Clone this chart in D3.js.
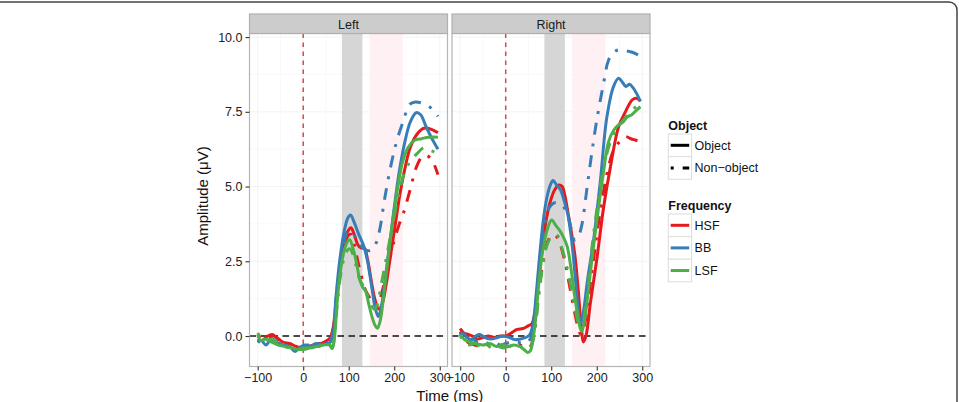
<!DOCTYPE html>
<html><head><meta charset="utf-8">
<script src="https://cdn.jsdelivr.net/npm/d3@7"></script>
<style>
body{margin:0;background:#fff;}
svg{display:block;font-family:"Liberation Sans",Arial,Helvetica,sans-serif;}
</style></head>
<body><svg id="chart" width="959" height="402"></svg>
<script>
// ---------------- data ----------------
const panels = ["Left", "Right"];
const frequencies = ["HSF", "BB", "LSF"];
const objectTypes = ["Object", "Non\u2212object"];
const xTicks = [-100, 0, 100, 200, 300];
const yTicks = [0, 2.5, 5, 7.5, 10];
const grayBand = [85, 130];
const pinkBand = [146, 219];

const L_HSF_obj = [[-100,-0.1],[-90,-0.15],[-78,0.0],[-68,0.05],[-58,-0.05],[-45,-0.2],[-30,-0.25],[-15,-0.35],[0,-0.4],[10,-0.35],[25,-0.3],[40,-0.25],[52,-0.15],[60,-0.05],[66,0.3],[72,1.1],[80,2.2],[90,3.1],[98,3.5],[105,3.62],[112,3.4],[120,3.05],[127,2.95],[134,2.95],[141,2.6],[150,1.8],[158,1.2],[166,0.9],[173,1.05],[182,1.7],[192,2.7],[202,3.7],[212,4.7],[222,5.5],[235,6.3],[250,6.75],[265,6.95],[280,6.92],[296,6.8]];
const L_BB_obj = [[-100,-0.2],[-92,-0.15],[-82,-0.3],[-72,-0.15],[-60,-0.2],[-45,-0.3],[-30,-0.35],[-18,-0.52],[-8,-0.4],[3,-0.3],[15,-0.35],[28,-0.25],[40,-0.3],[52,-0.25],[60,-0.2],[66,0.1],[72,1.3],[80,2.5],[90,3.5],[98,3.95],[104,4.05],[112,3.8],[122,3.4],[132,3.05],[140,2.6],[150,1.7],[158,0.95],[165,0.65],[172,1.0],[180,1.9],[190,3.1],[200,4.3],[210,5.4],[222,6.4],[235,7.15],[248,7.47],[258,7.4],[270,7.0],[283,6.6],[296,6.25]];
const L_LSF_obj = [[-100,0.05],[-93,-0.15],[-82,-0.1],[-70,-0.2],[-55,-0.3],[-40,-0.35],[-25,-0.4],[-12,-0.45],[0,-0.4],[15,-0.4],[30,-0.35],[45,-0.3],[57,-0.3],[64,-0.42],[69,0.0],[75,1.2],[84,2.4],[94,3.05],[102,3.22],[110,2.9],[117,2.45],[124,1.9],[130,1.65],[137,1.5],[145,1.0],[152,0.6],[158,0.35],[163,0.26],[169,0.5],[178,1.5],[188,2.8],[198,4.0],[208,5.0],[218,5.8],[230,6.3],[245,6.55],[260,6.6],[275,6.65],[296,6.65]];
const L_HSF_non = [[-100,0.0],[-88,-0.1],[-75,-0.05],[-65,0.0],[-52,-0.15],[-38,-0.3],[-22,-0.35],[-8,-0.45],[5,-0.4],[20,-0.3],[35,-0.25],[48,-0.2],[58,-0.1],[65,0.2],[72,1.0],[80,2.1],[90,3.0],[98,3.35],[105,3.4],[113,3.0],[120,2.5],[127,2.05],[135,1.6],[145,1.3],[155,1.05],[162,1.0],[170,1.3],[180,1.9],[190,2.6],[200,3.2],[210,3.7],[220,4.1],[235,4.9],[250,5.7],[265,6.05],[280,5.95],[296,5.4]];
const L_BB_non = [[-100,-0.15],[-90,-0.25],[-80,-0.2],[-68,-0.1],[-55,-0.25],[-40,-0.3],[-28,-0.4],[-15,-0.45],[-3,-0.35],[10,-0.3],[25,-0.3],[40,-0.25],[52,-0.2],[60,-0.15],[66,0.2],[72,1.2],[80,2.3],[90,3.2],[98,3.5],[105,3.5],[115,3.3],[125,3.05],[135,2.9],[145,2.85],[152,2.9],[160,3.1],[168,3.55],[179,4.6],[194,5.8],[206,6.55],[219,7.15],[234,7.75],[246,7.83],[259,7.8],[275,7.7],[288,7.5],[296,7.35]];
const L_LSF_non = [[-100,0.1],[-92,-0.05],[-80,-0.15],[-68,-0.1],[-55,-0.25],[-42,-0.35],[-28,-0.4],[-12,-0.45],[0,-0.45],[15,-0.4],[30,-0.35],[45,-0.35],[57,-0.3],[64,-0.35],[69,0.0],[75,1.1],[84,2.2],[94,2.8],[102,2.92],[110,2.7],[117,2.3],[124,1.9],[131,1.7],[140,1.4],[150,1.0],[157,0.9],[163,1.05],[170,1.6],[180,2.4],[190,3.2],[200,4.0],[210,4.75],[220,5.35],[235,5.85],[250,6.1],[265,6.3],[277,6.22],[288,6.15],[296,6.05]];

const R_HSF_obj = [[-100,0.25],[-92,0.1],[-82,0.05],[-73,0.0],[-62,-0.1],[-50,-0.05],[-38,0.0],[-25,-0.05],[-12,0.0],[0,0.0],[12,0.1],[25,0.22],[38,0.25],[50,0.35],[57,0.4],[63,0.7],[70,1.5],[78,2.7],[88,3.8],[98,4.5],[108,4.9],[117,5.05],[124,5.0],[130,4.7],[136,4.2],[144,3.5],[152,2.7],[159,1.6],[165,0.5],[171,-0.2],[177,0.05],[186,1.1],[200,2.55],[215,4.3],[230,5.65],[248,7.0],[263,7.5],[278,7.9],[288,7.95],[296,7.85]];
const R_BB_obj = [[-100,0.0],[-94,0.1],[-85,-0.05],[-76,-0.12],[-66,0.0],[-57,0.05],[-46,-0.05],[-32,-0.1],[-18,-0.05],[-5,0.0],[8,-0.05],[20,-0.12],[32,-0.1],[44,-0.05],[53,0.05],[60,0.4],[67,1.4],[74,2.6],[82,3.8],[90,4.6],[98,5.05],[104,5.2],[112,5.05],[120,4.9],[128,4.55],[136,4.1],[144,3.3],[152,2.1],[159,0.9],[164,0.4],[170,0.75],[180,1.9],[193,3.2],[208,5.2],[222,7.3],[237,8.35],[248,8.62],[256,8.5],[264,8.35],[272,8.42],[280,8.3],[288,8.1],[296,7.85]];
const R_LSF_obj = [[-100,0.05],[-92,-0.1],[-80,-0.2],[-65,-0.25],[-50,-0.3],[-35,-0.25],[-20,-0.35],[-5,-0.3],[5,-0.35],[18,-0.3],[30,-0.35],[40,-0.45],[48,-0.55],[54,-0.5],[60,-0.1],[66,0.6],[73,1.8],[82,2.9],[92,3.6],[101,3.88],[110,3.7],[120,3.5],[127,3.3],[135,3.0],[143,2.3],[150,1.5],[157,0.8],[163,0.3],[167,0.15],[173,0.5],[182,1.6],[192,2.9],[203,4.2],[215,5.5],[226,6.5],[238,6.9],[248,7.06],[257,7.15],[267,7.33],[277,7.4],[287,7.55],[296,7.67]];
const R_HSF_non = [[-100,0.15],[-92,-0.05],[-80,-0.25],[-68,-0.3],[-55,-0.35],[-42,-0.3],[-30,-0.3],[-18,-0.35],[-5,-0.3],[8,-0.35],[20,-0.3],[32,-0.3],[45,-0.4],[54,-0.35],[60,-0.1],[66,0.5],[73,1.5],[82,2.5],[92,3.15],[103,3.4],[112,3.32],[121,3.0],[130,2.5],[140,1.7],[150,0.9],[158,0.35],[165,0.05],[172,0.3],[182,1.3],[195,2.8],[210,4.4],[225,5.6],[237,6.22],[250,6.5],[263,6.67],[275,6.6],[286,6.55],[296,6.5]];
const R_BB_non = [[-100,0.1],[-93,-0.05],[-84,-0.2],[-74,-0.1],[-62,-0.2],[-50,-0.15],[-38,-0.25],[-25,-0.2],[-12,-0.3],[0,-0.25],[12,-0.2],[25,-0.2],[38,-0.25],[48,-0.2],[56,-0.05],[62,0.4],[69,1.5],[77,2.8],[86,3.8],[96,4.3],[106,4.45],[116,4.45],[125,4.35],[132,4.2],[139,3.9],[146,3.45],[152,3.21],[159,3.3],[167,3.7],[178,4.88],[189,6.11],[200,7.22],[215,8.45],[226,9.23],[238,9.5],[248,9.57],[260,9.55],[274,9.51],[285,9.45],[296,9.35]];
const R_LSF_non = [[-100,0.0],[-92,-0.15],[-80,-0.3],[-68,-0.25],[-55,-0.35],[-42,-0.3],[-30,-0.4],[-18,-0.35],[-5,-0.4],[8,-0.35],[20,-0.4],[32,-0.35],[45,-0.45],[54,-0.4],[60,-0.15],[66,0.4],[73,1.4],[82,2.4],[92,3.1],[103,3.35],[113,3.38],[122,3.0],[130,2.6],[140,1.9],[150,1.1],[158,0.5],[165,0.2],[172,0.6],[180,1.5],[189,2.9],[200,4.2],[215,5.6],[230,6.5],[245,6.95],[260,7.25],[275,7.5],[288,7.7],[296,7.8]];

const series = [
  {panel:"Left", freq:"HSF", obj:0, data:L_HSF_obj},
  {panel:"Left", freq:"HSF", obj:1, data:L_HSF_non},
  {panel:"Left", freq:"BB",  obj:0, data:L_BB_obj},
  {panel:"Left", freq:"BB",  obj:1, data:L_BB_non},
  {panel:"Left", freq:"LSF", obj:0, data:L_LSF_obj},
  {panel:"Left", freq:"LSF", obj:1, data:L_LSF_non},
  {panel:"Right", freq:"HSF", obj:0, data:R_HSF_obj},
  {panel:"Right", freq:"HSF", obj:1, data:R_HSF_non},
  {panel:"Right", freq:"BB",  obj:0, data:R_BB_obj},
  {panel:"Right", freq:"BB",  obj:1, data:R_BB_non},
  {panel:"Right", freq:"LSF", obj:0, data:R_LSF_obj},
  {panel:"Right", freq:"LSF", obj:1, data:R_LSF_non}
];

// ---------------- drawing ----------------
const svg = d3.select("#chart");
const color = d3.scaleOrdinal().domain(frequencies).range(["#E41A1C", "#377EB8", "#4DAF4A"]);
const dashes = ["none", "3,9,12,9"];
const fmtMinus = d => (d < 0 ? "\u2212" + Math.abs(d) : String(d));

const panelX = {Left:[249.5, 447.5], Right:[452, 650]};
const pTop = 33.5, pBottom = 366.5, stripTop = 14;
const y = d3.scaleLinear().domain([-1.02, 10.12]).range([pBottom, pTop]);

// frame
svg.append("rect").attr("x", -20).attr("y", 2).attr("width", 977).attr("height", 500)
  .attr("rx", 8).attr("fill", "none").attr("stroke", "#444").attr("stroke-width", 1.5);

panels.forEach(p => {
  const [x0, x1] = panelX[p];
  const x = d3.scaleLinear().domain([-118, 317]).range([x0, x1]);
  const g = svg.append("g");
  const clipId = "clip" + p;
  svg.append("clipPath").attr("id", clipId).append("rect")
    .attr("x", x0).attr("y", pTop).attr("width", x1 - x0).attr("height", pBottom - pTop);

  // grid
  const minorY = [1.25, 3.75, 6.25, 8.75];
  const minorX = [-50, 50, 150, 250];
  g.selectAll(".gmy").data(minorY).join("line").attr("x1", x0).attr("x2", x1)
    .attr("y1", d => y(d)).attr("y2", d => y(d)).attr("stroke", "#f9f9f9");
  g.selectAll(".gmx").data(minorX).join("line").attr("y1", pTop).attr("y2", pBottom)
    .attr("x1", d => x(d)).attr("x2", d => x(d)).attr("stroke", "#f9f9f9");
  g.selectAll(".gy").data(yTicks).join("line").attr("x1", x0).attr("x2", x1)
    .attr("y1", d => y(d)).attr("y2", d => y(d)).attr("stroke", "#f3f3f3");
  g.selectAll(".gx").data(xTicks).join("line").attr("y1", pTop).attr("y2", pBottom)
    .attr("x1", d => x(d)).attr("x2", d => x(d)).attr("stroke", "#f3f3f3");

  // bands
  g.append("rect").attr("x", x(pinkBand[0])).attr("width", x(pinkBand[1]) - x(pinkBand[0]))
    .attr("y", pTop).attr("height", pBottom - pTop).attr("fill", "#fff0f3");
  g.append("rect").attr("x", x(grayBand[0])).attr("width", x(grayBand[1]) - x(grayBand[0]))
    .attr("y", pTop).attr("height", pBottom - pTop).attr("fill", "#d6d6d6");

  // reference lines
  g.append("line").attr("x1", x(0)).attr("x2", x(0)).attr("y1", pTop).attr("y2", pBottom)
    .attr("stroke", "#cc4a52").attr("stroke-width", 1.5).attr("stroke-dasharray", "4.5,4.5");
  g.append("line").attr("x1", x0).attr("x2", x1).attr("y1", y(0)).attr("y2", y(0))
    .attr("stroke", "#111").attr("stroke-width", 1.4).attr("stroke-dasharray", "6.5,4.5");

  // curves
  const line = d3.line().x(d => x(d[0])).y(d => y(d[1])).curve(d3.curveCatmullRom.alpha(0.5));
  const cg = g.append("g").attr("clip-path", `url(#${clipId})`);
  series.filter(s => s.panel === p).forEach(s => {
    cg.append("path").attr("d", line(s.data)).attr("fill", "none")
      .attr("stroke", color(s.freq)).attr("stroke-width", 3)
      .attr("stroke-dasharray", dashes[s.obj]).attr("stroke-linejoin", "round");
  });

  // panel border
  g.append("rect").attr("x", x0).attr("y", pTop).attr("width", x1 - x0).attr("height", pBottom - pTop)
    .attr("fill", "none").attr("stroke", "#b5b5b5").attr("stroke-width", 1.2);

  // strip
  g.append("rect").attr("x", x0).attr("y", stripTop).attr("width", x1 - x0).attr("height", pTop - stripTop)
    .attr("fill", "#cccccc").attr("stroke", "#b0b0b0").attr("stroke-width", 1.2);
  g.append("text").attr("x", (x0 + x1) / 2).attr("y", 28.5).attr("text-anchor", "middle")
    .attr("font-size", 12.5).attr("fill", "#1a1a1a").text(p);

  // x axis
  const xa = g.append("g").attr("transform", `translate(0,${pBottom})`)
    .call(d3.axisBottom(x).tickValues(xTicks).tickSize(4).tickPadding(3).tickFormat(fmtMinus));
  xa.select(".domain").remove();
  xa.selectAll("line").attr("stroke", "#333").attr("stroke-width", 1.1);
  xa.selectAll("text").attr("font-size", 12.5).attr("fill", "#222")
    .attr("font-family", "'Liberation Sans',Arial,sans-serif");
});

// y axis
const ya = svg.append("g").attr("transform", `translate(${panelX.Left[0]},0)`)
  .call(d3.axisLeft(y).tickValues(yTicks).tickSize(4).tickPadding(3).tickFormat(d3.format(".1f")));
ya.select(".domain").remove();
ya.selectAll("line").attr("stroke", "#333").attr("stroke-width", 1.1);
ya.selectAll("text").attr("font-size", 12.5).attr("fill", "#222")
  .attr("font-family", "'Liberation Sans',Arial,sans-serif");

// axis titles
svg.append("text").attr("transform", "translate(208,196) rotate(-90)").attr("text-anchor", "middle")
  .attr("font-size", 15).attr("fill", "#111").text("Amplitude (\u03BCV)");
svg.append("text").attr("x", (panelX.Left[0] + panelX.Right[1]) / 2).attr("y", 401)
  .attr("text-anchor", "middle").attr("font-size", 15).attr("fill", "#111").text("Time (ms)");

// legend
const lx = 668.3, kw = 23.3, kh = 22.6;
const leg = svg.append("g");
leg.append("text").attr("x", lx).attr("y", 129.5).attr("font-size", 12.5).attr("font-weight", "bold")
  .attr("fill", "#111").text("Object");
objectTypes.forEach((o, i) => {
  const ky = 134 + i * kh;
  leg.append("rect").attr("x", lx).attr("y", ky).attr("width", kw).attr("height", kh)
    .attr("fill", "#fff").attr("stroke", "#dcdcdc").attr("stroke-width", 1);
  leg.append("line").attr("x1", lx + 2.4).attr("x2", lx + kw - 2.4).attr("y1", ky + kh / 2).attr("y2", ky + kh / 2)
    .attr("stroke", "#000").attr("stroke-width", 3).attr("stroke-dasharray", dashes[i]);
  leg.append("text").attr("x", lx + kw + 3).attr("y", ky + kh / 2 + 4.5).attr("font-size", 12.5)
    .attr("fill", "#111").text(o);
});
leg.append("text").attr("x", lx).attr("y", 209.5).attr("font-size", 12.5).attr("font-weight", "bold")
  .attr("fill", "#111").text("Frequency");
frequencies.forEach((f, i) => {
  const ky = 214 + i * kh;
  leg.append("rect").attr("x", lx).attr("y", ky).attr("width", kw).attr("height", kh)
    .attr("fill", "#fff").attr("stroke", "#dcdcdc").attr("stroke-width", 1);
  leg.append("line").attr("x1", lx + 2.4).attr("x2", lx + kw - 2.4).attr("y1", ky + kh / 2).attr("y2", ky + kh / 2)
    .attr("stroke", color(f)).attr("stroke-width", 3);
  leg.append("text").attr("x", lx + kw + 3).attr("y", ky + kh / 2 + 4.5).attr("font-size", 12.5)
    .attr("fill", "#111").text(f);
});
</script></body></html>
